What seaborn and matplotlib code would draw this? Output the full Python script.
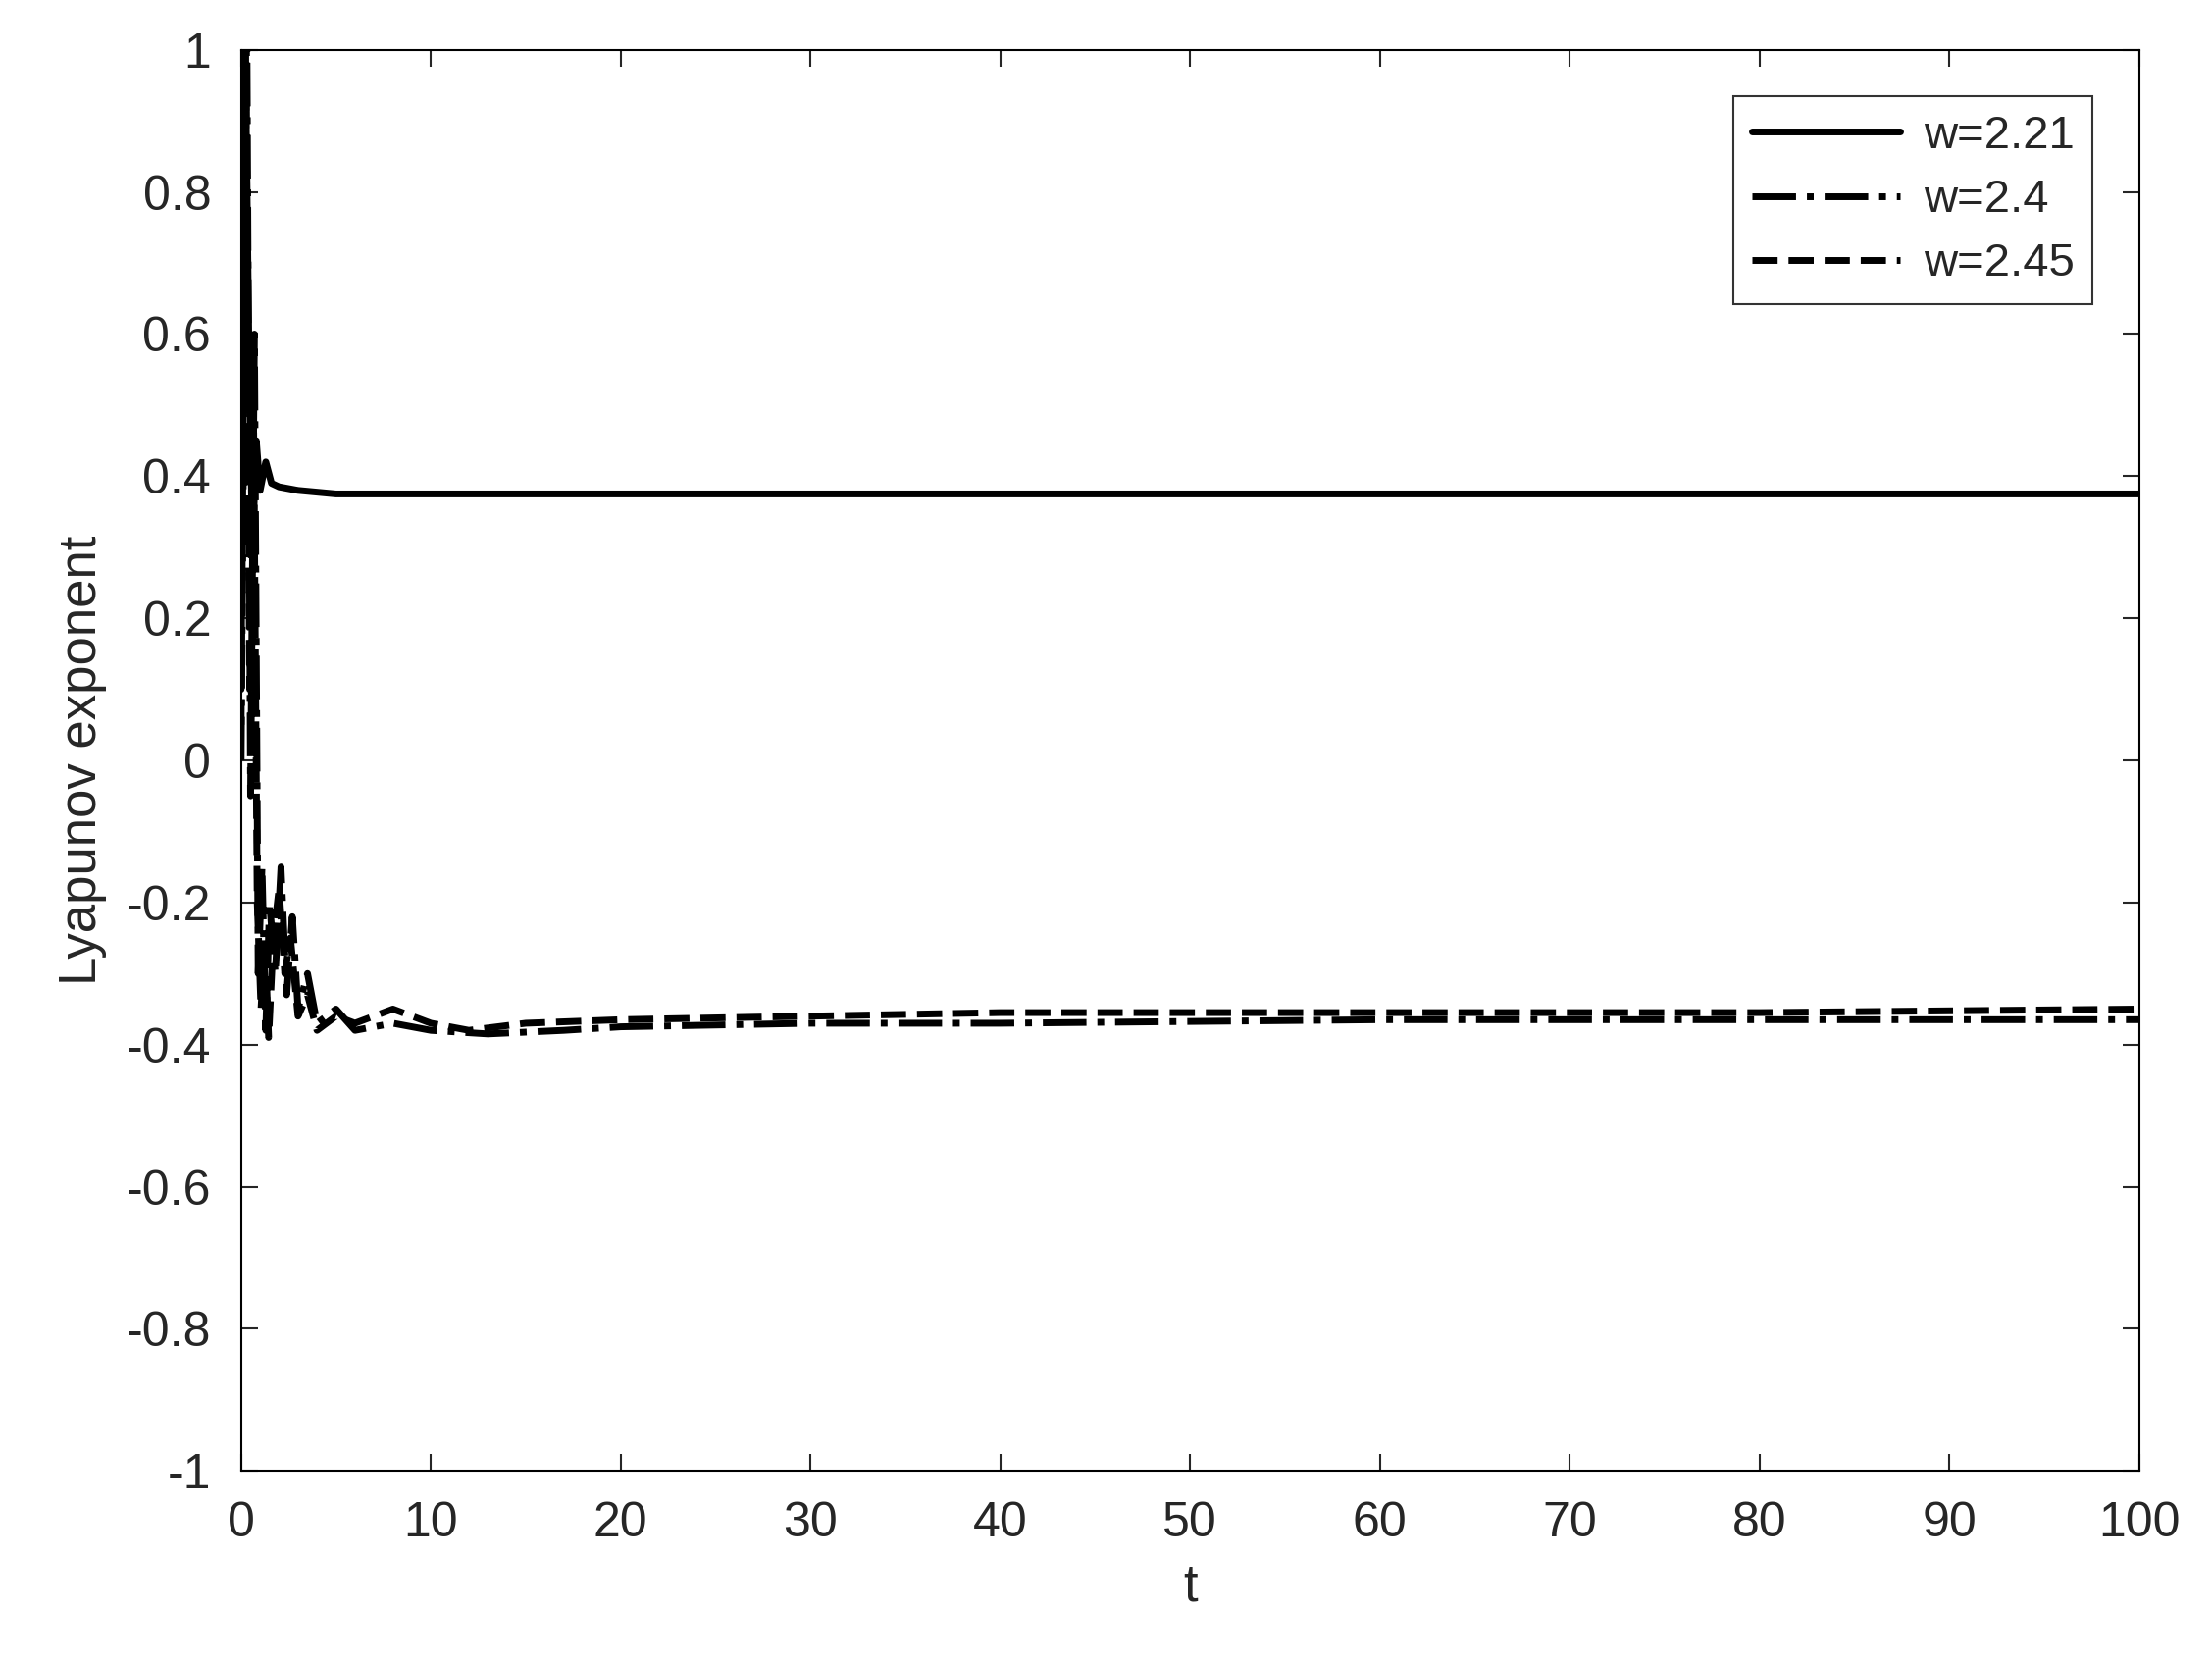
import numpy as np
import pandas as pd
import matplotlib
matplotlib.use("Agg")
import matplotlib.pyplot as plt
import seaborn as sns

# -----------------------------
# Data
# -----------------------------
t_221 = [0, 0.2, 0.4, 0.6, 0.8, 1.0, 1.3, 1.6, 2, 3, 5, 10, 20, 40, 60, 80, 100]
y_221 = [0.1, 1.05, 0.6, 0.3, 0.45, 0.38, 0.42, 0.39, 0.385, 0.38, 0.375, 0.375,
         0.375, 0.375, 0.375, 0.375, 0.375]

t_240 = [0, 0.3, 0.5, 0.7, 0.9, 1.1, 1.3, 1.5, 1.8, 2.1, 2.4, 2.7, 3, 3.5, 4, 5, 6,
         8, 10, 13, 17, 20, 30, 40, 60, 80, 100]
y_240 = [0.0, 1.05, -0.05, 0.6, -0.3, -0.15, -0.38, -0.2, -0.3, -0.15, -0.33, -0.22,
         -0.35, -0.3, -0.37, -0.35, -0.38, -0.37, -0.38, -0.385, -0.38, -0.375,
         -0.37, -0.37, -0.365, -0.365, -0.365]

t_245 = [0, 0.25, 0.45, 0.65, 0.85, 1.05, 1.25, 1.45, 1.7, 2.0, 2.3, 2.6, 3, 3.5,
         4, 5, 6, 8, 10, 12, 15, 20, 30, 40, 60, 80, 100]
y_245 = [0.05, 1.05, 0.1, 0.5, -0.2, -0.35, -0.25, -0.39, -0.25, -0.18, -0.3,
         -0.25, -0.36, -0.33, -0.38, -0.36, -0.37, -0.35, -0.37, -0.38, -0.37,
         -0.365, -0.36, -0.355, -0.355, -0.355, -0.35]

labels = ["w=2.21", "w=2.4", "w=2.45"]
styles = ["-", "-.", "--"]

sns.set_style("white")
plt.rcParams["font.family"] = ["Liberation Sans", "DejaVu Sans"]
plt.rcParams["text.color"] = "#262626"

fig = plt.figure(figsize=(22.55, 16.94), dpi=100)
ax = fig.add_axes([0.109, 0.115, 0.858, 0.855])

for t, y, lab, ls in zip([t_221, t_240, t_245], [y_221, y_240, y_245], labels, styles):
    sns.lineplot(x=t, y=y, ax=ax, color="black", linestyle=ls, linewidth=5,
                 label=lab, sort=False)

ax.set_xlim(0, 100)
ax.set_ylim(-1, 1)
ax.set_xticks(np.arange(0, 101, 10))
ax.set_yticks(np.round(np.arange(-1, 1.01, 0.2), 1))
ax.set_yticklabels(["-1", "-0.8", "-0.6", "-0.4", "-0.2", "0", "0.2", "0.4", "0.6", "0.8", "1"])
ax.tick_params(labelsize=36, direction="in", length=12, width=1.5, pad=22,
               top=True, right=True, bottom=True, left=True, labelcolor="#262626")
for s in ax.spines.values():
    s.set_linewidth(1.5)
    s.set_color("black")
ax.set_xlabel("t", fontsize=38, labelpad=12)
ax.set_ylabel("Lyapunov exponent", fontsize=38, labelpad=14)

leg = ax.legend(loc="upper right", fontsize=34, frameon=True, fancybox=False,
                edgecolor="black", handlelength=3.2, handletextpad=0.5,
                borderaxespad=1.0, labelspacing=0.45)
leg.get_frame().set_linewidth(1.5)

fig.savefig("out.png", dpi=100)
